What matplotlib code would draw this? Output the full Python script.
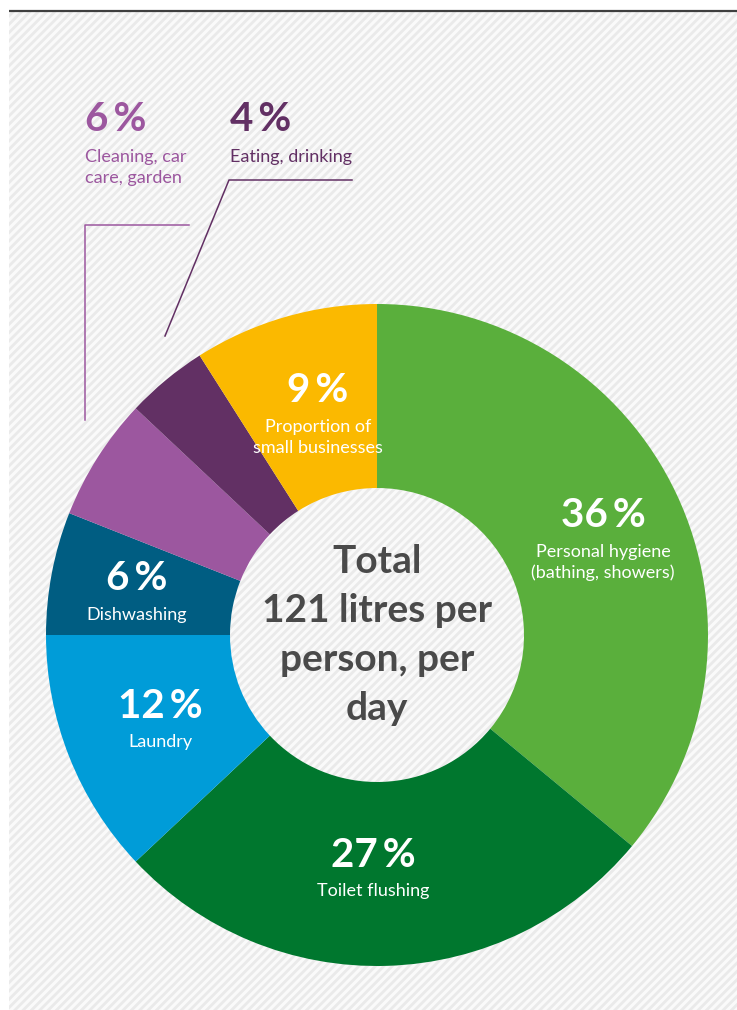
import matplotlib.pyplot as plt
from matplotlib.patches import Rectangle

# Daily household water use, share per purpose
categories = ['Personal hygiene\n(bathing, showers)', 'Toilet flushing', 'Laundry',
              'Dishwashing', 'Cleaning, car\ncare, garden', 'Eating, drinking',
              'Proportion of\nsmall businesses']
shares = [36, 27, 12, 6, 6, 4, 9]
colors = ['#5aaf3c', '#00772e', '#009cd8', '#005d82', '#9c579f', '#623064', '#fbb900']
total_text = ['Total', '121 litres per', 'person, per', 'day']

plt.rcParams['font.family'] = ['Lato', 'DejaVu Sans']
plt.rcParams['hatch.linewidth'] = 2.0

W, H = 737, 1010
fig = plt.figure(figsize=(W / 100, H / 100), dpi=100)
ax = fig.add_axes([0, 0, 1, 1])

# striped background panel with a dark rule on top
ax.add_patch(Rectangle((9, 12), W - 9, H - 12, facecolor='#fafafa',
                       edgecolor='#eaeaea', hatch='////', linewidth=0, zorder=0))
ax.plot([9, W], [11, 11], color='#404040', lw=1.6, zorder=1,
        solid_capstyle='butt')

# y axis runs downward, so start at -90 and go counterclockwise in data
# space to get a clockwise donut starting at 12 o'clock
cx, cy, r_out, r_in = 377, 635, 331, 147
ax.pie(shares, colors=colors, startangle=-90, counterclock=True,
       radius=r_out, center=(cx, cy),
       wedgeprops=dict(width=r_out - r_in, linewidth=0))

ax.set_xlim(0, W)
ax.set_ylim(H, 0)
ax.axis('off')

# labels inside the ring: (x, baseline of value, baseline of first text line)
inner = {
    0: (603, 527, 557),
    1: (373, 867, 896),
    2: (160, 718, 747),
    3: (137, 590, 620),
    6: (318, 402, 432),
}
for i, (x, yv, yt) in inner.items():
    ax.text(x, yv, f'{shares[i]}\u2009%', color='white', fontsize=29,
            fontweight='bold', ha='center', va='baseline')
    for k, line in enumerate(categories[i].split('\n')):
        ax.text(x, yt + k * 21, line, color='white', fontsize=13,
                ha='center', va='baseline')

# small slices are labelled outside with leader lines
outer = {4: 85, 5: 230}
for i, x in outer.items():
    ax.text(x, 131, f'{shares[i]}\u2009%', color=colors[i], fontsize=29,
            fontweight='bold', ha='left', va='baseline')
    for k, line in enumerate(categories[i].split('\n')):
        ax.text(x, 162 + k * 21, line, color=colors[i], fontsize=13,
                ha='left', va='baseline')

ax.plot([85, 85, 189], [420, 225, 225], color=colors[4], lw=1.1)
ax.plot([165, 229, 352], [336, 180, 180], color=colors[5], lw=1.1)

# total in the hole
for k, line in enumerate(total_text):
    ax.text(cx, 573 + k * 49, line, color='#4a4a4a', fontsize=28,
            fontweight='bold', ha='center', va='baseline')

fig.savefig('out.png', dpi=100)
